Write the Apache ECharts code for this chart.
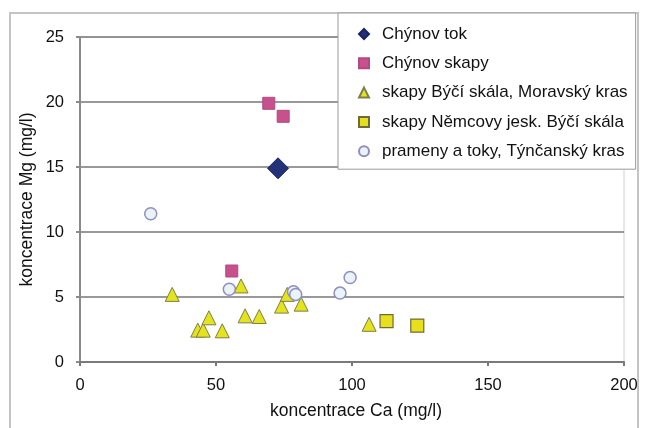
<!DOCTYPE html>
<html>
<head>
<meta charset="utf-8">
<script src="https://cdn.jsdelivr.net/npm/echarts@6/dist/echarts.min.js"></script>
<style>
html,body{margin:0;padding:0;background:#fff;}
#main{width:646px;height:428px;}
</style>
</head>
<body>
<div id="main"></div>
<script>
var seriesNames = ['Chýnov tok', 'Chýnov skapy', 'skapy Býčí skála, Moravský kras', 'skapy Němcovy jesk. Býčí skála', 'prameny a toky, Týnčanský kras'];
var chynovTok = [[72.8, 14.9]];
var chynovSkapy = [[69.4, 19.9], [74.7, 18.9], [55.8, 7.0]];
var bycisSkala = [[33.9, 5.2], [43.3, 2.45], [45.3, 2.45], [47.4, 3.4], [52.3, 2.4], [59.2, 5.85], [60.7, 3.55], [65.9, 3.5], [74.1, 4.3], [76.2, 5.2], [81.3, 4.45], [106.3, 2.9]];
var nemcovy = [[112.7, 3.15], [124.0, 2.8]];
var tyncansky = [[26.0, 11.4], [54.9, 5.6], [78.5, 5.4], [79.3, 5.2], [95.6, 5.3], [99.3, 6.5]];
var xTicks = [0, 50, 100, 150, 200];
var yTicks = [0, 5, 10, 15, 20, 25];
var xTitle = 'koncentrace Ca (mg/l)';
var yTitle = 'koncentrace Mg (mg/l)';

var FONT = 'Liberation Sans, Arial, sans-serif';
var chart = echarts.init(document.getElementById('main'), null, {renderer: 'canvas'});
chart.setOption({
  animation: false,
  backgroundColor: '#fff',
  textStyle: {fontFamily: FONT},
  graphic: [{
    type: 'rect', z: 0,
    shape: {x: 10, y: 13, width: 628, height: 440},
    style: {fill: 'none', stroke: '#c4c4c4', lineWidth: 2}
  }],
  grid: {left: 80, top: 37, right: 22, bottom: 66, show: true, borderColor: '#d0d0d0', borderWidth: 1, backgroundColor: 'transparent'},
  legend: {
    orient: 'vertical',
    left: 338, top: 13,
    backgroundColor: '#fff',
    borderColor: '#9a9a9a', borderWidth: 1,
    padding: [12, 8, 9, 20],
    itemWidth: 10, itemHeight: 10, itemGap: 11.3,
    textStyle: {fontSize: 17, color: '#111', fontFamily: FONT, lineHeight: 18, padding: [0, 0, 0, 8]},
    data: seriesNames
  },
  xAxis: {
    type: 'value', min: xTicks[0], max: xTicks[xTicks.length - 1], interval: 50,
    name: xTitle, nameLocation: 'middle', nameGap: 40,
    nameTextStyle: {fontSize: 17.5, color: '#111', fontFamily: FONT, padding: [0, 0, 0, 8]},
    axisLine: {show: true, onZero: false, lineStyle: {color: '#7a7a7a', width: 2}},
    axisTick: {show: true, length: 4, lineStyle: {color: '#7a7a7a', width: 2}},
    axisLabel: {fontSize: 16.5, color: '#111', margin: 15, fontFamily: FONT},
    splitLine: {show: false}
  },
  yAxis: {
    type: 'value', min: yTicks[0], max: yTicks[yTicks.length - 1], interval: 5,
    name: yTitle, nameLocation: 'middle', nameGap: 44, nameRotate: 90, nameMoveOverlap: false,
    nameTextStyle: {fontSize: 17.5, color: '#111', fontFamily: FONT},
    axisLine: {show: true, lineStyle: {color: '#8a8a8a', width: 2}},
    axisTick: {show: true, length: 4, lineStyle: {color: '#8a8a8a', width: 2}},
    axisLabel: {fontSize: 16.5, color: '#111', margin: 16, fontFamily: FONT},
    splitLine: {show: true, lineStyle: {color: '#777', width: 1.5}}
  },
  series: [
    {name: seriesNames[0], type: 'scatter', data: chynovTok, symbol: 'diamond', symbolSize: 21, z: 5,
     itemStyle: {color: '#233178', borderColor: '#1a2460', borderWidth: 1, opacity: 1}},
    {name: seriesNames[1], type: 'scatter', data: chynovSkapy, symbol: 'rect', symbolSize: 12,
     itemStyle: {color: '#c8508c', borderColor: '#b04a80', borderWidth: 1, opacity: 1}},
    {name: seriesNames[2], type: 'scatter', data: bycisSkala, symbol: 'triangle', symbolSize: 14,
     itemStyle: {color: '#e4e41e', borderColor: '#7e7e4a', borderWidth: 1, opacity: 1}},
    {name: seriesNames[3], type: 'scatter', data: nemcovy, symbol: 'rect', symbolSize: 13,
     itemStyle: {color: '#e8e01a', borderColor: '#6e6a3a', borderWidth: 1.2, opacity: 1}},
    {name: seriesNames[4], type: 'scatter', data: tyncansky, symbol: 'circle', symbolSize: 12,
     itemStyle: {color: '#eaf3fa', borderColor: '#8f8fbf', borderWidth: 1.5, opacity: 1}}
  ]
});
</script>
</body>
</html>
